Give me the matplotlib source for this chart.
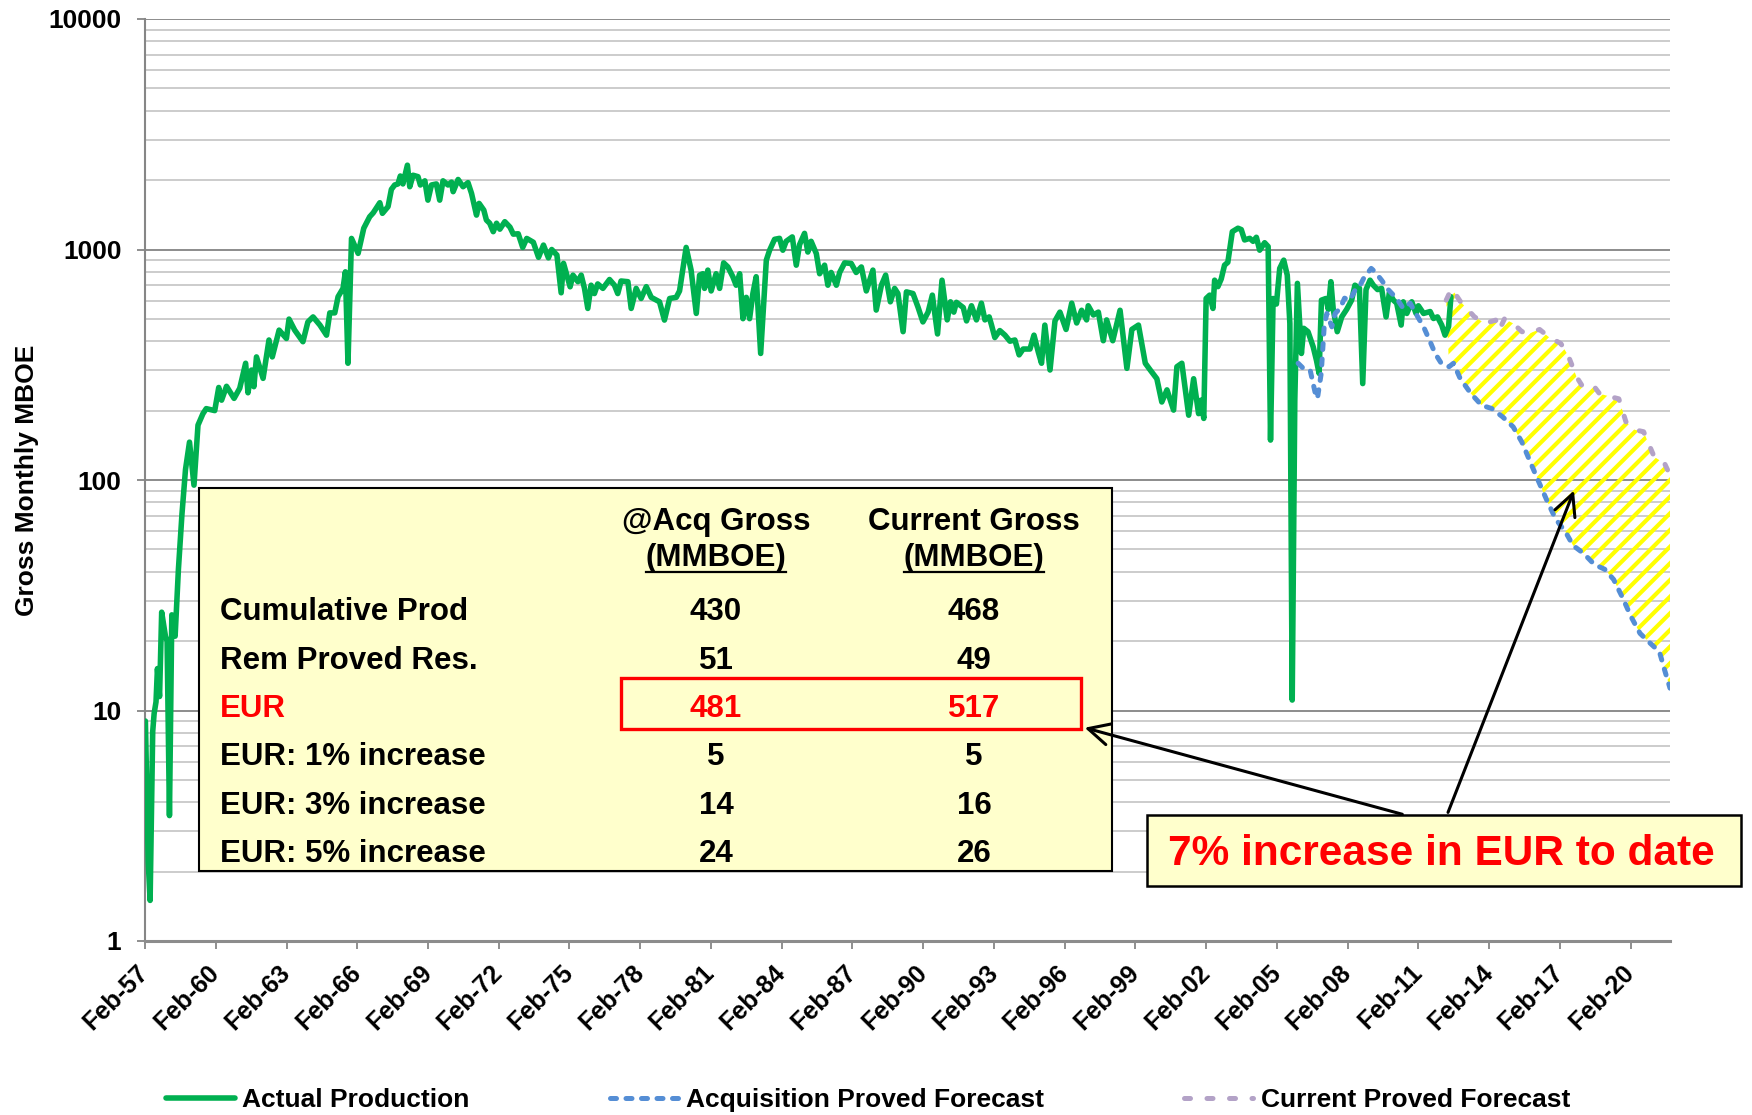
import matplotlib
matplotlib.use('Agg')
import matplotlib.pyplot as plt
from matplotlib.patches import Rectangle, FancyArrowPatch
from matplotlib.lines import Line2D
from matplotlib.ticker import LogLocator, NullFormatter

plt.rcParams['font.family'] = ['Liberation Sans', 'DejaVu Sans']
plt.rcParams['font.weight'] = 'bold'
plt.rcParams['hatch.linewidth'] = 3.0

# ---- data (decimal year, gross monthly MBOE) ----
prod_year = [1957.10, 1957.22, 1957.30, 1957.41, 1957.47, 1957.55, 1957.61, 1957.70, 1957.79, 1957.95,
             1958.02, 1958.12, 1958.22, 1958.36, 1958.50, 1958.65, 1958.80, 1958.97, 1959.16, 1959.33,
             1959.54, 1959.68, 1960.04, 1960.21, 1960.33, 1960.54, 1960.86, 1961.10, 1961.35, 1961.45,
             1961.60, 1961.70, 1961.81, 1962.09, 1962.34, 1962.48, 1962.77, 1963.08, 1963.19, 1963.43,
             1963.78, 1963.99, 1964.21, 1964.50, 1964.78, 1964.92, 1965.13, 1965.27, 1965.48, 1965.58,
             1965.69, 1965.84, 1966.12, 1966.36, 1966.61, 1966.76, 1967.04, 1967.15, 1967.39, 1967.53,
             1967.67, 1967.81, 1967.91, 1968.02, 1968.21, 1968.31, 1968.45, 1968.66, 1968.76, 1968.95,
             1969.08, 1969.23, 1969.44, 1969.58, 1969.72, 1969.93, 1970.08, 1970.15, 1970.36, 1970.57,
             1970.78, 1970.93, 1971.14, 1971.25, 1971.45, 1971.56, 1971.70, 1971.85, 1971.99, 1972.13,
             1972.34, 1972.56, 1972.70, 1972.91, 1973.10, 1973.27, 1973.55, 1973.77, 1973.98, 1974.19,
             1974.33, 1974.55, 1974.73, 1974.83, 1975.11, 1975.23, 1975.44, 1975.58, 1975.72, 1975.86,
             1976.00, 1976.14, 1976.28, 1976.50, 1976.78, 1976.99, 1977.13, 1977.27, 1977.56, 1977.70,
             1977.91, 1978.12, 1978.34, 1978.55, 1978.90, 1979.11, 1979.33, 1979.61, 1979.75, 1980.03,
             1980.24, 1980.46, 1980.60, 1980.74, 1980.81, 1980.95, 1981.09, 1981.30, 1981.45, 1981.62,
             1981.80, 1982.01, 1982.15, 1982.30, 1982.44, 1982.58, 1982.72, 1982.86, 1983.00, 1983.19,
             1983.43, 1983.57, 1983.78, 1983.99, 1984.13, 1984.27, 1984.53, 1984.70, 1984.84, 1985.05,
             1985.19, 1985.33, 1985.55, 1985.69, 1985.90, 1986.04, 1986.18, 1986.40, 1986.54, 1986.75,
             1987.03, 1987.24, 1987.46, 1987.67, 1987.95, 1988.09, 1988.31, 1988.49, 1988.69, 1988.87,
             1989.01, 1989.23, 1989.37, 1989.65, 1989.86, 1990.07, 1990.29, 1990.47, 1990.69, 1990.88,
             1991.10, 1991.24, 1991.38, 1991.49, 1991.78, 1991.92, 1992.13, 1992.34, 1992.55, 1992.70,
             1992.88, 1992.98, 1993.12, 1993.33, 1993.55, 1993.76, 1993.97, 1994.15, 1994.32, 1994.61,
             1994.78, 1994.96, 1995.10, 1995.24, 1995.46, 1995.67, 1995.88, 1996.14, 1996.38, 1996.59,
             1996.80, 1997.01, 1997.08, 1997.30, 1997.51, 1997.72, 1997.86, 1998.12, 1998.43, 1998.72,
             1998.93, 1999.21, 1999.50, 1999.71, 1999.99, 2000.20, 2000.42, 2000.70, 2000.84, 2001.05,
             2001.34, 2001.55, 2001.76, 2001.86, 2001.98, 2002.08, 2002.23, 2002.37, 2002.44, 2002.58,
             2002.72, 2002.86, 2003.00, 2003.19, 2003.43, 2003.57, 2003.71, 2003.93, 2004.07, 2004.21,
             2004.35, 2004.56, 2004.71, 2004.81, 2004.92, 2005.06, 2005.20, 2005.37, 2005.52, 2005.63,
             2005.73, 2005.84, 2005.95, 2006.12, 2006.22, 2006.40, 2006.62, 2006.76, 2006.87, 2006.97,
             2007.16, 2007.26, 2007.37, 2007.47, 2007.64, 2007.83, 2008.04, 2008.25, 2008.39, 2008.58,
             2008.72, 2008.86, 2009.03, 2009.17, 2009.35, 2009.52, 2009.71, 2009.85, 2010.02, 2010.16,
             2010.35, 2010.44, 2010.59, 2010.80, 2010.98, 2011.08, 2011.30, 2011.58, 2011.72, 2011.89,
             2012.07, 2012.21, 2012.36, 2012.46]
prod_mboe = [9, 2.2, 1.5, 8.1, 9.7, 10.9, 15.2, 11.5, 26.7, 21,
             20, 3.5, 26, 21, 41, 71, 111, 146, 95, 173,
             194, 204, 200, 252, 222, 255, 226, 250, 321, 239,
             300, 254, 342, 276, 405, 342, 447, 411, 499, 447,
             398, 485, 510, 470, 425, 531, 531, 624, 678, 800,
             321, 1117, 962, 1237, 1387, 1442, 1596, 1435, 1535, 1823,
             1905, 1925, 2084, 1925, 2322, 1872, 2100, 2070, 1905, 1986,
             1637, 1905, 1925, 1637, 1986, 1905, 1960, 1782, 2013, 1872,
             1950, 1751, 1410, 1585, 1482, 1342, 1300, 1195, 1300, 1225,
             1320, 1250, 1166, 1170, 1021, 1117, 1075, 925, 1045, 920,
             1000, 946, 649, 871, 689, 774, 725, 774, 678, 555,
             700, 644, 709, 678, 741, 700, 644, 730, 725, 555,
             678, 613, 690, 620, 593, 494, 613, 620, 661, 1021,
             814, 528, 774, 785, 678, 814, 661, 785, 678, 875,
             840, 762, 700, 785, 501, 620, 501, 644, 762, 354,
             899, 993, 1107, 1118, 993, 1085, 1134, 855, 1050, 1175,
             975, 1085, 960, 785, 855, 700, 795, 700, 795, 875,
             870, 795, 840, 661, 814, 546, 700, 774, 593, 678,
             644, 440, 655, 644, 563, 485, 535, 634, 430, 736,
             495, 593, 535, 590, 560, 490, 570, 495, 585, 495,
             510, 470, 415, 445, 425, 400, 405, 349, 370, 370,
             425, 360, 321, 470, 300, 490, 535, 450, 585, 480,
             545, 495, 570, 520, 535, 402, 495, 402, 545, 305,
             450, 470, 321, 300, 275, 218, 246, 201, 310, 321,
             191, 275, 194, 222, 185, 613, 634, 555, 736, 690,
             745, 855, 880, 1195, 1237, 1220, 1100, 1118, 1085, 1130,
             993, 1070, 1030, 149, 613, 580, 828, 899, 774, 478,
             11.1, 222, 713, 354, 455, 440, 378, 330, 290, 603,
             613, 550, 725, 550, 440, 510, 550, 603, 700, 680,
             262, 670, 736, 700, 670, 678, 510, 650, 603, 585,
             470, 593, 528, 593, 528, 570, 528, 538, 502, 510,
             470, 425, 463, 624]

acq_year = [2005.98, 2006.20, 2006.49, 2006.74, 2006.80, 2006.96, 2007.09, 2007.20, 2007.41, 2007.55,
            2007.76, 2007.95, 2008.18, 2008.39, 2008.55, 2008.76, 2009.08, 2009.24, 2009.52, 2009.80,
            2010.16, 2010.44, 2010.73, 2011.01, 2011.30, 2011.58, 2011.79, 2012.05, 2012.38, 2012.57,
            2012.85, 2013.31, 2013.76, 2014.20, 2014.65, 2015.10, 2015.47, 2015.85, 2016.15, 2016.52,
            2016.89, 2017.34, 2017.64, 2018.09, 2018.54, 2018.98, 2019.36, 2019.73, 2020.10, 2020.48,
            2020.93, 2021.30, 2021.52, 2021.75]
acq_mboe = [321, 305, 300, 230, 226, 290, 470, 528, 462, 528,
            555, 615, 603, 665, 680, 750, 828, 800, 736, 670,
            613, 555, 585, 519, 462, 398, 354, 321, 310, 321,
            276, 237, 211, 204, 188, 170, 146, 118, 100, 82,
            68, 59, 52, 48, 43, 41, 37, 31, 25.5, 21.6,
            19.5, 18, 15, 12.5]

cur_year = [2012.26, 2012.49, 2012.86, 2013.46, 2013.91, 2014.36, 2014.51, 2014.73, 2015.10, 2015.47,
            2015.85, 2016.22, 2016.60, 2017.12, 2017.42, 2017.79, 2018.09, 2018.54, 2018.76, 2019.28,
            2019.58, 2019.88, 2020.26, 2020.63, 2021.08, 2021.52, 2021.75]
cur_mboe = [603, 678, 595, 510, 478, 494, 447, 500, 478, 440,
            435, 450, 418, 391, 349, 280, 250, 254, 237, 229,
            225, 179, 165, 162, 126, 118, 105]

tick_years = list(range(1957, 2021, 3))
tick_labels = ['Feb-%02d' % (y % 100) for y in tick_years]

row_labels = ['Cumulative Prod', 'Rem Proved Res.', 'EUR',
              'EUR: 1% increase', 'EUR: 3% increase', 'EUR: 5% increase']
acq_gross = ['430', '51', '481', '5', '14', '24']
cur_gross = ['468', '49', '517', '5', '16', '26']

W, H = 1752, 1115
fig = plt.figure(figsize=(W / 100, H / 100), dpi=100)
ax = fig.add_axes([145 / W, 1 - 941 / H, (1670 - 145) / W, (941 - 19) / H])

# forecast band (yellow hatch between the two forecasts)
band_x = cur_year + [x for x in acq_year if x >= 2012.2][::-1]
band_y = cur_mboe + [v for x, v in zip(acq_year, acq_mboe) if x >= 2012.2][::-1]
ax.fill(band_x, band_y, facecolor='none', edgecolor='#FFFF00', hatch='//', linewidth=0, zorder=2)

ax.plot(prod_year, prod_mboe, color='#00B050', lw=4.0, label='Actual Production', zorder=4,
        solid_joinstyle='round', solid_capstyle='round')
ax.plot(acq_year, acq_mboe, color='#558ED5', lw=3.6, dashes=(1.2, 1.9), dash_capstyle='round',
        label='Acquisition Proved Forecast', zorder=5)
ax.plot(cur_year, cur_mboe, color='#B3A2C7', lw=3.6, dashes=(1.2, 3.3), dash_capstyle='round',
        label='Current Proved Forecast', zorder=5)

ax.set_yscale('log')
ax.set_ylim(1, 10000)
ax.set_xlim(1957.083, 2021.75)
ax.set_yticks([1, 10, 100, 1000, 10000])
ax.set_yticklabels(['1', '10', '100', '1000', '10000'])
ax.yaxis.set_minor_locator(LogLocator(base=10, subs=range(2, 10)))
ax.yaxis.set_minor_formatter(NullFormatter())
ax.tick_params(axis='y', which='minor', length=0)
ax.tick_params(axis='y', which='major', length=6, width=1.3, color='#868686', labelsize=19, pad=11)
ax.set_xticks([y + 1 / 12 for y in tick_years])
ax.set_xticklabels(tick_labels, rotation=45, ha='right', va='center', rotation_mode='anchor')
ax.tick_params(axis='x', length=6, width=1.3, color='#868686', labelsize=18, pad=14)

ax.grid(which='major', axis='y', color='#8C8C8C', lw=1.4, zorder=0)
ax.grid(which='minor', axis='y', color='#C8C8C8', lw=1.3, zorder=0)
ax.set_axisbelow(True)
for s in ['top', 'right']:
    ax.spines[s].set_visible(False)
ax.spines['left'].set_color('#868686')
ax.spines['left'].set_linewidth(1.5)
ax.spines['bottom'].set_color('#8C8C8C')
ax.spines['bottom'].set_linewidth(2.2)

ax.set_ylabel('Gross Monthly MBOE', fontsize=19, fontweight='bold', labelpad=7)

fig.legend(loc='center', bbox_to_anchor=(868 / W, 1 - 1100 / H), ncol=3, frameon=False,
           fontsize=19, handlelength=2.6, handletextpad=0.3, columnspacing=5.3)

# ---- summary table ----
def fx(px):
    return px / W

def fy(py):
    return 1 - py / H

fig.add_artist(Rectangle((fx(199), fy(871)), fx(1112) - fx(199), fy(488) - fy(871),
                         transform=fig.transFigure, facecolor='#FFFFCC', edgecolor='black',
                         lw=1.5, zorder=6))
col_x = [716, 974]
hdr = []
for cx, h1 in zip(col_x, ['@Acq Gross', 'Current Gross']):
    fig.text(fx(cx), fy(522), h1, ha='center', va='center', fontsize=22.5, zorder=7)
    hdr.append(fig.text(fx(cx), fy(558), '(MMBOE)', ha='center', va='center', fontsize=22.5, zorder=7))

row_y = [612, 661, 709, 757, 806, 854]
for lab, a, c, ry in zip(row_labels, acq_gross, cur_gross, row_y):
    col = 'red' if lab == 'EUR' else 'black'
    fig.text(fx(220), fy(ry), lab, ha='left', va='center', fontsize=22.5, color=col, zorder=7)
    fig.text(fx(col_x[0]), fy(ry), a, ha='center', va='center', fontsize=22.5, color=col, zorder=7)
    fig.text(fx(col_x[1]), fy(ry), c, ha='center', va='center', fontsize=22.5, color=col, zorder=7)

fig.add_artist(Rectangle((fx(621), fy(729)), fx(1081) - fx(621), fy(678) - fy(729),
                         transform=fig.transFigure, facecolor='none', edgecolor='red',
                         lw=2.4, zorder=8))

# callout
fig.add_artist(Rectangle((fx(1147), fy(886)), fx(1741) - fx(1147), fy(815) - fy(886),
                         transform=fig.transFigure, facecolor='#FFFFCC', edgecolor='black',
                         lw=1.8, zorder=6))
fig.text(fx(1441), fy(854), '7% increase in EUR to date', ha='center', va='center',
         fontsize=30.5, color='red', zorder=7)

for (x0, y0), (x1, y1) in [((1447, 815), (1575, 488)), ((1405, 815), (1082, 727))]:
    fig.add_artist(FancyArrowPatch((fx(x0), fy(y0)), (fx(x1), fy(y1)), transform=fig.transFigure,
                                   arrowstyle='->,head_length=0.7,head_width=0.35',
                                   mutation_scale=22, color='black', lw=2.2, zorder=9))

# underline the unit headers
fig.canvas.draw()
r = fig.canvas.get_renderer()
for t in hdr:
    bb = t.get_window_extent(r)
    yy = bb.y0 + 1
    fig.add_artist(Line2D([bb.x0 / W, bb.x1 / W], [yy / H, yy / H], transform=fig.transFigure,
                          color='black', lw=1.6, zorder=8))

fig.savefig('out.png', dpi=100)
